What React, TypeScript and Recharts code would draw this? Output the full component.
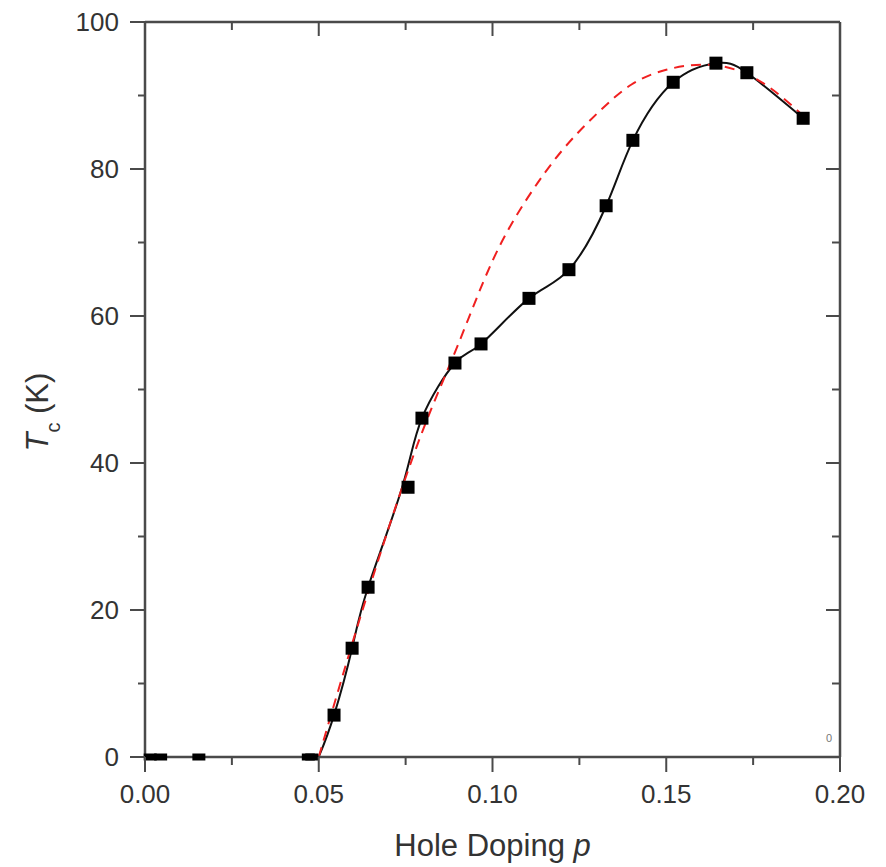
import { ComposedChart, Line, Scatter, XAxis, YAxis, Label } from "recharts";

// samples with no superconductivity (Tc = 0)
const dopingZero = [0.0015, 0.0045, 0.0155, 0.047, 0.048];

// superconducting samples
const dopingSC = [0.0544, 0.0596, 0.0642, 0.0757, 0.0797, 0.0892, 0.0967, 0.1105, 0.122, 0.1327, 0.1404, 0.152, 0.1643, 0.1732, 0.1894];
const tcSC = [5.7, 14.8, 23.1, 36.7, 46.1, 53.6, 56.2, 62.4, 66.3, 75.0, 83.9, 91.8, 94.4, 93.1, 86.9];

// black guide line (it runs just left of the 0.076 point)
const guideDoping = [0.05, 0.0544, 0.0596, 0.0642, 0.074, 0.0797, 0.0892, 0.0967, 0.1105, 0.122, 0.1327, 0.1404, 0.152, 0.1643, 0.1732, 0.1894];
const guideTc = [0, 5.7, 14.8, 23.1, 36.7, 46.1, 53.6, 56.2, 62.4, 66.3, 75.0, 83.9, 91.8, 94.4, 93.1, 86.9];

// red dashed dome
const domeDoping = [0.05, 0.06, 0.07, 0.08, 0.09, 0.1, 0.11, 0.12, 0.13, 0.14, 0.15, 0.16, 0.17, 0.18, 0.19];
const domeTc = [0, 16, 31, 44.5, 56, 67.5, 76, 82.5, 87.5, 91.5, 93.5, 94.2, 93.5, 91, 87];

const xTicks = [0, 0.025, 0.05, 0.075, 0.1, 0.125, 0.15, 0.175, 0.2];
const yTicks = [0, 10, 20, 30, 40, 50, 60, 70, 80, 90, 100];

const points = [
  ...dopingZero.map((p) => ({ p, tc: 0 })),
  ...dopingSC.map((p, i) => ({ p, tc: tcSC[i] })),
];
const guide = guideDoping.map((p, i) => ({ p, tc: guideTc[i] }));
const dome = domeDoping.map((p, i) => ({ p, tc: domeTc[i] }));

const FONT = '"Liberation Sans", Arial, Helvetica, sans-serif';
const AXIS = "#4a4a4a";
const TEXT = "#333";

const isMajorX = (v: number) => Math.round(v * 1000) % 50 === 0;
const isMajorY = (v: number) => v % 20 === 0;

const BottomTick = ({ x, y, payload }: any) => {
  const major = isMajorX(payload.value);
  return (
    <g>
      <line x1={x} x2={x} y1={y} y2={y + (major ? 15 : 8)} stroke={AXIS} strokeWidth={2} />
      {major && (
        <text x={x} y={y + 46} textAnchor="middle" fontSize={26} fill={TEXT} fontFamily={FONT}>
          {payload.value.toFixed(2)}
        </text>
      )}
    </g>
  );
};

const TopTick = ({ x, y, payload }: any) => {
  const major = isMajorX(payload.value);
  return <line x1={x} x2={x} y1={y} y2={y + (major ? 14 : 8)} stroke={AXIS} strokeWidth={2} />;
};

const LeftTick = ({ x, y, payload }: any) => {
  const major = isMajorY(payload.value);
  return (
    <g>
      <line x1={x} x2={x - (major ? 15 : 7)} y1={y} y2={y} stroke={AXIS} strokeWidth={2} />
      {major && (
        <text x={x - 26} y={y} dy="0.36em" textAnchor="end" fontSize={26} fill={TEXT} fontFamily={FONT}>
          {payload.value}
        </text>
      )}
    </g>
  );
};

const RightTick = ({ x, y, payload }: any) => {
  const major = isMajorY(payload.value);
  return <line x1={x} x2={x - (major ? 14 : 8)} y1={y} y2={y} stroke={AXIS} strokeWidth={2} />;
};

const Square = (props: any) => {
  const { cx, cy, payload } = props;
  const h = payload.tc === 0 ? 7 : 13;
  return <rect x={cx - 6.5} y={cy - h / 2} width={13} height={h} fill="#000" />;
};

const XTitle = ({ viewBox }: any) => {
  const { x, y, width } = viewBox;
  return (
    <text x={x + width / 2} y={y + 99} textAnchor="middle" fontSize={31} fill={TEXT} fontFamily={FONT}>
      Hole Doping <tspan fontStyle="italic">p</tspan>
    </text>
  );
};

const YTitle = ({ viewBox }: any) => {
  const { x, y, height } = viewBox;
  const tx = x + 40;
  const ty = y + height / 2 + 62;
  return (
    <text x={tx} y={ty} transform={`rotate(-90 ${tx} ${ty})`} fontSize={31} fill={TEXT} fontFamily={FONT}>
      <tspan fontStyle="italic">T</tspan>
      <tspan fontSize={20} dy={12}>c</tspan>
      <tspan dy={-12}> (K)</tspan>
    </text>
  );
};

export default function App() {
  return (
    <div style={{ position: "relative", width: 870, height: 858, fontFamily: FONT }}>
      <ComposedChart width={870} height={858} margin={{ top: 13, right: 37, bottom: 0, left: 0 }}>
        <XAxis
          xAxisId="bottom"
          dataKey="p"
          type="number"
          domain={[0, 0.2]}
          ticks={xTicks}
          interval={0}
          height={109}
          tickSize={0}
          tickMargin={0}
          tickLine={false}
          axisLine={{ stroke: AXIS, strokeWidth: 2.5 }}
          tick={<BottomTick />}
          label={<Label content={<XTitle />} />}
        />
        <XAxis
          xAxisId="top"
          dataKey="p"
          orientation="top"
          type="number"
          domain={[0, 0.2]}
          ticks={xTicks}
          interval={0}
          height={1}
          tickSize={0}
          tickMargin={0}
          tickLine={false}
          axisLine={{ stroke: AXIS, strokeWidth: 2.5 }}
          tick={<TopTick />}
        />
        <YAxis
          yAxisId="left"
          type="number"
          domain={[0, 100]}
          ticks={yTicks}
          interval={0}
          width={137}
          tickSize={0}
          tickMargin={0}
          tickLine={false}
          axisLine={{ stroke: AXIS, strokeWidth: 2.5 }}
          tick={<LeftTick />}
          label={<Label content={<YTitle />} />}
        />
        <YAxis
          yAxisId="right"
          orientation="right"
          type="number"
          domain={[0, 100]}
          ticks={yTicks}
          interval={0}
          width={1}
          tickSize={0}
          tickMargin={0}
          tickLine={false}
          axisLine={{ stroke: AXIS, strokeWidth: 2.5 }}
          tick={<RightTick />}
        />
        <Line
          xAxisId="bottom"
          yAxisId="left"
          data={guide}
          dataKey="tc"
          type="natural"
          stroke="#111"
          strokeWidth={2}
          dot={false}
          activeDot={false}
          isAnimationActive={false}
        />
        <Scatter
          xAxisId="bottom"
          yAxisId="left"
          data={points}
          dataKey="tc"
          shape={<Square />}
          isAnimationActive={false}
        />
        <Line
          xAxisId="top"
          yAxisId="right"
          data={dome}
          dataKey="tc"
          type="natural"
          stroke="#f02020"
          strokeWidth={2}
          strokeDasharray="10 7"
          dot={false}
          activeDot={false}
          isAnimationActive={false}
        />
      </ComposedChart>
      <span
        style={{
          position: "absolute",
          left: 818,
          top: 723,
          fontSize: 11,
          color: "#777",
          lineHeight: "14px",
        }}
      >
        0
      </span>
    </div>
  );
}
